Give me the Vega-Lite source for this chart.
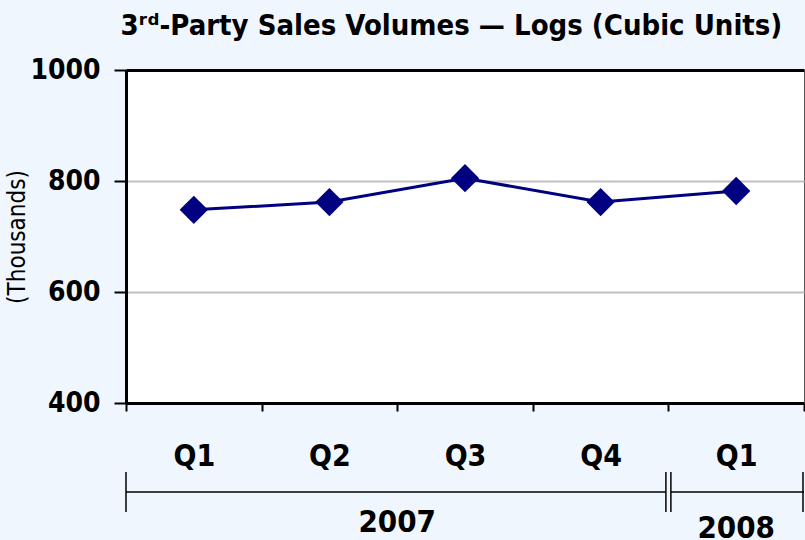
{
  "$schema": "https://vega.github.io/schema/vega-lite/v6.json",
  "background": "#f0f6fe",
  "padding": {"left": 5, "top": 11, "right": 1, "bottom": 0},
  "title": {
    "text": "3ʳᵈ-Party Sales Volumes — Logs (Cubic Units)",
    "font": "DejaVu Sans Condensed, Roboto Condensed, Liberation Sans Narrow, Roboto",
    "fontSize": 29,
    "fontWeight": "bold",
    "color": "black",
    "anchor": "middle",
    "dx": 46,
    "offset": 15
  },
  "datasets": {
    "main": [
      {"q": "Q1 2007", "value": 748},
      {"q": "Q2 2007", "value": 762},
      {"q": "Q3 2007", "value": 805},
      {"q": "Q4 2007", "value": 762},
      {"q": "Q1 2008", "value": 782}
    ],
    "years": [
      {"year": "2007", "start": "Q1 2007", "last": "Q4 2007", "center": "Q3 2007"},
      {"year": "2008", "start": "Q1 2008", "last": "Q1 2008", "center": "Q1 2008"}
    ]
  },
  "spacing": -19,
  "vconcat": [
    {
      "width": 678,
      "height": 333,
      "view": {"fill": "white", "stroke": "#555555", "strokeWidth": 1},
      "data": {"name": "main"},
      "encoding": {
        "x": {
          "field": "q", "type": "nominal", "sort": null, "bandPosition": 0.5,
          "scale": {"type": "band", "paddingInner": 0, "paddingOuter": 0},
          "axis": {
            "title": null, "tickBand": "extent", "labelExpr": "datum.value ? split(datum.value, ' ')[0] : ''",
            "labelAngle": 0, "labelFont": "DejaVu Sans Condensed, Roboto Condensed, Liberation Sans Narrow, Roboto", "labelFontSize": 30, "labelFontWeight": "bold",
            "labelColor": "black", "labelPadding": 30, "domainColor": "black", "domainWidth": 3,
            "tickColor": "black", "tickWidth": 2, "tickSize": 8, "grid": false
          }
        },
        "y": {
          "field": "value", "type": "quantitative",
          "scale": {"domain": [400, 1000]},
          "axis": {
            "title": "(Thousands)", "titleFont": "DejaVu Sans Condensed, Roboto Condensed, Liberation Sans Narrow, Roboto", "titleFontSize": 24, "titleFontWeight": "normal",
            "titleColor": "black", "titlePadding": 0,
            "values": [400, 600, 800, 1000], "format": "d",
            "labelFont": "DejaVu Sans Condensed, Roboto Condensed, Liberation Sans Narrow, Roboto", "labelFontSize": 28, "labelFontWeight": "bold", "labelColor": "black",
            "labelPadding": 14, "tickSize": 12, "tickColor": "black", "tickWidth": 2,
            "domainColor": "black", "domainWidth": 3,
            "grid": true,
            "gridColor": {"condition": {"test": "datum.value == 1000", "value": "black"}, "value": "#c0c0c0"},
            "gridWidth": {"condition": {"test": "datum.value == 1000", "value": 3}, "value": 2}
          }
        }
      },
      "layer": [
        {"mark": {"type": "line", "color": "#000080", "strokeWidth": 3}},
        {"mark": {"type": "point", "shape": "diamond", "filled": true, "size": 800, "color": "#000080", "opacity": 1}}
      ]
    },
    {
      "width": 678,
      "height": 40,
      "view": {"stroke": null},
      "data": {"name": "years"},
      "layer": [
        {
          "transform": [{"filter": "datum.year == '2007'"}],
          "mark": {"type": "rule", "color": "black", "strokeWidth": 1.5, "x2Offset": -2.5},
          "encoding": {
            "x": {"field": "start", "type": "nominal", "bandPosition": 0, "scale": {"type": "band", "paddingInner": 0, "paddingOuter": 0, "domain": ["Q1 2007", "Q2 2007", "Q3 2007", "Q4 2007", "Q1 2008"]}, "axis": null},
            "x2": {"field": "last", "bandPosition": 1}
          }
        },
        {
          "transform": [{"filter": "datum.year == '2008'"}],
          "mark": {"type": "rule", "color": "black", "strokeWidth": 1.5, "xOffset": 2.5},
          "encoding": {
            "x": {"field": "start", "type": "nominal", "bandPosition": 0},
            "x2": {"field": "last", "bandPosition": 1}
          }
        },
        {
          "transform": [{"filter": "datum.year == '2007'"}],
          "mark": {"type": "rule", "color": "black", "strokeWidth": 1.5},
          "encoding": {"x": {"field": "start", "type": "nominal", "bandPosition": 0}}
        },
        {
          "transform": [{"filter": "datum.year == '2008'"}],
          "mark": {"type": "rule", "color": "black", "strokeWidth": 1.5, "xOffset": -2.5},
          "encoding": {"x": {"field": "start", "type": "nominal", "bandPosition": 0}}
        },
        {
          "transform": [{"filter": "datum.year == '2008'"}],
          "mark": {"type": "rule", "color": "black", "strokeWidth": 1.5, "xOffset": 2.5},
          "encoding": {"x": {"field": "start", "type": "nominal", "bandPosition": 0}}
        },
        {
          "transform": [{"filter": "datum.year == '2008'"}],
          "mark": {"type": "rule", "color": "black", "strokeWidth": 1.5, "xOffset": -1},
          "encoding": {"x": {"field": "last", "type": "nominal", "bandPosition": 1}}
        },
        {
          "transform": [{"filter": "datum.year == '2007'"}],
          "mark": {"type": "text", "font": "DejaVu Sans Condensed, Roboto Condensed, Liberation Sans Narrow, Roboto", "fontSize": 31, "fontWeight": "bold", "color": "black", "baseline": "middle", "dy": 31},
          "encoding": {"x": {"field": "center", "type": "nominal", "bandPosition": 0}, "text": {"field": "year"}}
        },
        {
          "transform": [{"filter": "datum.year == '2008'"}],
          "mark": {"type": "text", "font": "DejaVu Sans Condensed, Roboto Condensed, Liberation Sans Narrow, Roboto", "fontSize": 31, "fontWeight": "bold", "color": "black", "baseline": "middle", "dy": 37},
          "encoding": {"x": {"field": "center", "type": "nominal", "bandPosition": 0.5}, "text": {"field": "year"}}
        }
      ]
    }
  ]
}
